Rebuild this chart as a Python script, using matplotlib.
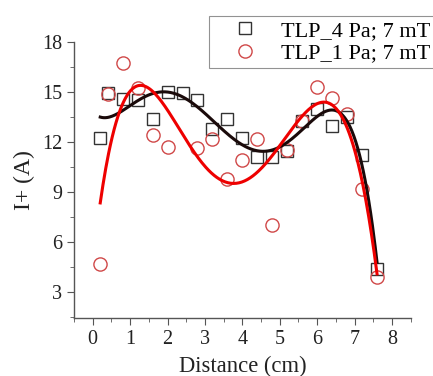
import numpy as np
import matplotlib
matplotlib.use('Agg')
import matplotlib.pyplot as plt
from matplotlib.ticker import MultipleLocator

# distance (cm)
x4 = [0.2, 0.4, 0.8, 1.2, 1.6, 2.0, 2.4, 2.8, 3.2, 3.6,
      4.0, 4.4, 4.8, 5.2, 5.6, 6.0, 6.4, 6.8, 7.2, 7.6]
i4 = [12.2, 14.9, 14.56, 14.48, 13.36, 15.0, 14.9, 14.48, 12.78, 13.36,
      12.24, 11.08, 11.08, 11.44, 13.26, 13.94, 12.92, 13.5, 11.22, 4.38]

x1 = [0.2, 0.4, 0.8, 1.2, 1.6, 2.0, 2.8, 3.2, 3.6, 4.0,
      4.4, 4.8, 5.2, 5.6, 6.0, 6.4, 6.8, 7.2, 7.6]
i1 = [4.66, 14.86, 16.7, 15.24, 12.4, 11.68, 11.64, 12.14, 9.78, 10.9,
      12.14, 7.0, 11.48, 13.26, 15.28, 14.64, 13.64, 9.14, 3.9]

plt.rcParams['font.family'] = ['Liberation Serif', 'DejaVu Serif']

fig = plt.figure(figsize=(4.33, 3.76), dpi=100)
ax = fig.add_axes([0.171, 0.1535, 0.7775, 0.7355])

# polynomial fits of each data set
xx = np.linspace(0.2, 7.6, 300)
fit4 = np.polyval(np.polyfit(x4, i4, 5), xx)
fit1 = np.polyval(np.polyfit(x1, i1, 5), xx)

sq, = ax.plot(x4, i4, 's', ms=8.5, mfc='none', mec='#333333', mew=1.0,
              label='TLP_4 Pa; 7 mT')
ci, = ax.plot(x1, i1, 'o', ms=9.5, mfc='none', mec='#d04848', mew=1.0,
              label='TLP_1 Pa; 7 mT')
ax.plot(xx, fit4, color='#1a0a0a', lw=2.2)
ax.plot(xx, fit1, color='#ee0000', lw=2.2)

ax.set_xlim(-0.5, 8.5)
ax.set_ylim(1.4, 18)
ax.xaxis.set_major_locator(MultipleLocator(1))
ax.xaxis.set_minor_locator(MultipleLocator(0.5))
ax.yaxis.set_minor_locator(MultipleLocator(1.5))
ax.set_yticks([3, 6, 9, 12, 15, 18])

for s in ['top', 'right']:
    ax.spines[s].set_visible(False)
for s in ['left', 'bottom']:
    ax.spines[s].set_color('#555555')
    ax.spines[s].set_linewidth(1.0)
ax.tick_params(which='both', direction='out', colors='#555555',
               labelcolor='#222222', labelsize=14.5)
ax.tick_params(which='major', length=5)
ax.tick_params(which='minor', length=3)

ax.set_xlabel('Distance (cm)', fontsize=16.3, color='#222222', labelpad=5)
ax.set_ylabel('I+ (A)', fontsize=17, color='#222222', labelpad=5)

leg = fig.legend(handles=[sq, ci], loc='upper left',
                 bbox_to_anchor=(0.483, 0.958), fontsize=16,
                 frameon=True, fancybox=False, edgecolor='#777777',
                 borderpad=0.2, handletextpad=0.25, labelspacing=0.1,
                 handlelength=2.8, borderaxespad=0)
leg.get_frame().set_linewidth(0.8)

fig.savefig('out.png', dpi=100)
